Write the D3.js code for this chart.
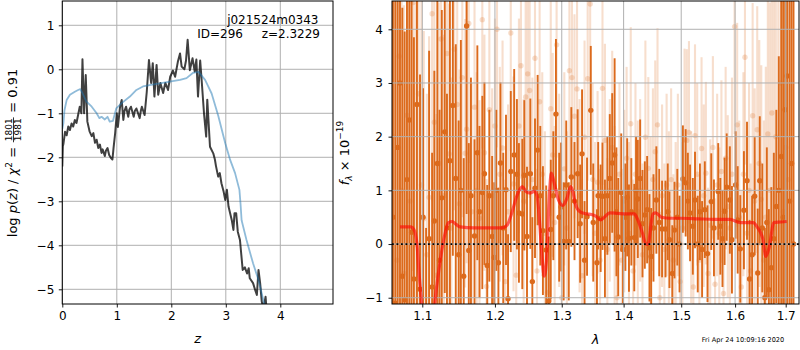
<!DOCTYPE html>
<html><head><meta charset="utf-8">
<script src="https://cdn.jsdelivr.net/npm/d3@7"></script>
<style>body{margin:0;background:#fff} text{font-family:"DejaVu Sans",sans-serif;fill:#000}</style>
</head><body><svg id="c" width="800" height="350" xmlns="http://www.w3.org/2000/svg"></svg>
<script>
// ---------- Left panel data: log p(z) ----------
const zBlack = [0.00,0.01,0.02,0.05,0.08,0.11,0.14,0.17,0.20,0.23,0.26,0.29,0.32,0.35,0.37,0.40,0.43,0.46,0.50,0.54,0.57,0.60,0.63,0.66,0.69,0.72,0.74,0.78,0.80,0.83,0.86,0.89,0.92,0.94,0.97,1.00,1.02,1.06,1.09,1.12,1.14,1.17,1.21,1.23,1.26,1.31,1.33,1.36,1.42,1.44,1.46,1.51,1.55,1.59,1.63,1.66,1.69,1.73,1.76,1.80,1.85,1.89,1.94,1.98,2.03,2.07,2.12,2.16,2.19,2.24,2.27,2.30,2.34,2.39,2.43,2.46,2.49,2.53,2.56,2.60,2.64,2.66,2.71,2.77,2.80,2.82,2.86,2.89,2.92,2.96,2.99,3.02,3.05,3.11,3.14,3.16,3.19,3.22,3.26,3.31,3.35,3.39,3.42,3.44,3.50,3.54,3.57,3.60,3.63,3.66,3.69,3.73,3.75];
const pBlack = [-2.21,-1.75,-1.70,-1.42,-1.50,-1.30,-1.38,-1.23,-1.30,-1.15,-1.22,-1.04,-0.85,-1.00,0.23,-1.00,-0.13,-1.19,-1.41,-1.52,-1.45,-1.67,-1.60,-1.79,-1.71,-1.90,-1.82,-1.97,-1.85,-1.79,-1.95,-2.01,-2.05,-1.79,-1.45,-1.00,-1.31,-0.85,-0.70,-1.15,-0.95,-0.85,-1.08,-0.92,-0.85,-1.08,-0.95,-0.89,-1.11,-0.95,-0.85,-1.04,-0.51,0.21,-0.31,0.14,-0.62,0.10,-0.58,-0.31,-0.54,-0.31,-0.47,-0.17,-0.03,-0.17,0.17,0.36,0.06,0.00,0.20,0.67,-0.02,0.25,-0.05,0.22,-0.62,0.20,-0.30,-1.00,-1.53,-0.69,-1.76,-1.91,-2.05,-2.20,-2.44,-2.36,-2.59,-2.78,-2.97,-2.74,-3.12,-3.43,-3.65,-3.27,-3.27,-3.69,-3.88,-4.56,-4.50,-4.64,-4.52,-4.75,-4.86,-5.02,-5.13,-4.56,-4.86,-5.28,-5.45,-5.17,-5.50];
const zBlue = [0.00,0.02,0.04,0.08,0.14,0.23,0.29,0.33,0.37,0.44,0.54,0.63,0.68,0.72,0.78,0.83,0.87,0.93,0.99,1.09,1.24,1.36,1.48,1.60,1.79,1.97,2.16,2.28,2.40,2.50,2.62,2.74,2.86,2.99,3.08,3.17,3.25,3.27,3.29,3.38,3.50,3.60,3.68,3.72];
const pBlue = [-1.35,-1.23,-0.93,-0.70,-0.58,-0.51,-0.47,-0.45,-0.54,-0.73,-0.85,-1.00,-1.11,-1.08,-1.14,-1.08,-1.19,-1.17,-0.89,-0.77,-0.62,-0.47,-0.39,-0.36,-0.32,-0.28,-0.24,-0.20,-0.08,-0.06,-0.24,-0.55,-1.05,-1.68,-2.06,-2.36,-2.74,-3.05,-3.43,-3.88,-4.41,-4.79,-5.20,-5.40];
const zTicks = [0,1,2,3,4];
const pTicks = [-5,-4,-3,-2,-1,0,1];

// ---------- Right panel data: spectrum ----------
const darkWave = [1.062,1.065,1.068,1.071,1.074,1.077,1.080,1.083,1.086,1.089,1.093,1.097,1.101,1.105,1.109,1.113,1.116,1.120,1.123,1.126,1.130,1.133,1.137,1.141,1.145,1.149,1.152,1.156,1.160,1.163,1.166,1.171,1.175,1.178,1.182,1.185,1.189,1.192,1.196,1.199,1.202,1.205,1.208,1.212,1.216,1.219,1.223,1.228,1.232,1.235,1.240,1.243,1.247,1.252,1.255,1.259,1.263,1.267,1.271,1.276,1.280,1.283,1.287,1.291,1.296,1.299,1.303,1.307,1.311,1.315,1.320,1.325,1.329,1.332,1.336,1.340,1.346,1.350,1.356,1.358,1.362,1.365,1.369,1.373,1.377,1.381,1.385,1.388,1.391,1.396,1.399,1.403,1.406,1.409,1.413,1.418,1.421,1.424,1.428,1.432,1.436,1.440,1.444,1.447,1.451,1.456,1.461,1.466,1.472,1.476,1.479,1.484,1.488,1.493,1.497,1.503,1.508,1.512,1.516,1.521,1.525,1.530,1.534,1.538,1.543,1.548,1.555,1.560,1.568,1.572,1.576,1.580,1.584,1.590,1.594,1.601,1.605,1.610,1.617,1.623,1.628,1.633,1.638,1.644,1.648,1.653,1.658,1.662,1.666,1.671,1.676,1.681,1.686,1.691,1.695,1.699,1.703,1.708,1.712,1.716];
const darkFlux = [0.5,-1.1,1.8,3.0,-0.6,-1.04,1.2,2.31,0.22,-0.65,2.6,-0.84,0.5,-1.3,0.1,-0.8,0.43,1.5,-0.3,0.86,2.09,0.3,1.55,2.58,1.22,-0.2,1.0,-0.6,4.06,-0.12,0.9,0.15,1.7,0.6,0.96,1.31,-0.4,0.9,0.14,-0.25,1.0,-0.35,1.51,0.3,1.01,-1.02,1.35,1.66,1.30,0.58,0.56,1.28,0.14,1.31,-0.70,1.04,1.75,0.9,0.25,-0.11,-1.06,0.27,0.9,2.42,0.5,0.69,0.05,1.1,0.05,1.25,0.8,1.31,0.38,1.68,-0.3,0.51,2.49,0.40,-0.35,0.9,0.48,0.89,0.1,0.9,1.22,1.51,1.66,0.6,0.13,0.96,-0.1,0.5,0.87,0.11,0.6,0.12,1.0,0.84,1.22,0.38,0.54,0.64,-0.07,-0.23,0.3,0.82,0.4,0.28,0.28,0.6,0.08,-0.55,0.26,0.5,0.0,1.21,1.14,0.8,0.58,0.33,0.82,0.0,0.6,-0.1,0.64,-0.18,0.79,0.3,0.98,0.33,0.1,0.61,1.06,0.82,0.08,1.10,0.45,-0.09,0.63,1.18,-0.65,-0.2,0.89,-0.54,1.18,0.3,-1.0,0.4,-0.85,-0.44,0.1,0.7,1.0,1.63,0.5,2.5,3.13,0.8,1.5,0.0];
const darkErr = [6,6,5.5,5.5,5,5,5,4.5,4.5,4.5,4.5,4,2.4,1.6,3.5,2.5,2.8,3.2,2.8,3.5,3.0,2.5,3.0,2.8,2.5,2.5,2.8,2.2,3.5,2.0,2.2,1.8,2.0,1.6,1.8,1.7,1.5,1.6,1.5,1.4,1.5,1.4,1.5,1.4,1.4,1.2,1.5,1.6,1.4,1.3,1.4,1.4,1.3,1.4,1.2,1.3,1.4,1.3,1.2,1.2,1.2,1.3,1.2,1.4,1.2,1.2,1.1,1.2,1.1,1.3,1.1,1.2,1.1,1.2,1.1,1.1,1.2,1.1,1.0,1.0,1.0,1.0,1.1,1.1,1.2,1.3,1.8,1.2,1.1,1.1,1.0,1.0,1.1,1.0,1.0,1.0,1.0,1.1,1.1,1.0,1.0,1.0,1.0,0.9,1.0,1.0,1.0,0.9,0.9,0.9,0.9,0.9,0.9,0.9,0.9,1.0,1.0,0.9,0.9,0.9,0.9,0.9,0.9,0.9,0.9,0.9,0.9,0.9,0.9,0.9,0.9,1.0,1.0,1.0,1.0,1.0,1.0,1.0,1.1,1.1,1.1,1.1,1.1,1.2,1.2,1.2,1.3,1.4,1.5,1.5,1.6,1.8,2.5,5,5,6,6,6,6,6,6];

const lightWave = [1.063,1.067,1.070,1.073,1.076,1.080,1.084,1.088,1.091,1.095,1.099,1.102,1.106,1.109,1.113,1.116,1.119,1.122,1.125,1.129,1.133,1.136,1.139,1.143,1.147,1.150,1.154,1.158,1.160,1.163,1.167,1.171,1.174,1.178,1.182,1.185,1.188,1.192,1.196,1.200,1.203,1.207,1.211,1.215,1.219,1.223,1.227,1.231,1.235,1.238,1.242,1.245,1.248,1.251,1.255,1.259,1.262,1.266,1.270,1.274,1.278,1.283,1.286,1.289,1.292,1.296,1.300,1.304,1.308,1.312,1.316,1.320,1.324,1.328,1.332,1.336,1.341,1.345,1.349,1.353,1.357,1.361,1.365,1.369,1.373,1.377,1.381,1.385,1.389,1.393,1.397,1.401,1.405,1.409,1.412,1.416,1.420,1.424,1.428,1.432,1.437,1.442,1.446,1.450,1.454,1.458,1.462,1.466,1.470,1.474,1.478,1.482,1.486,1.490,1.494,1.498,1.502,1.506,1.510,1.514,1.518,1.522,1.525,1.529,1.533,1.537,1.541,1.545,1.549,1.553,1.558,1.562,1.566,1.570,1.574,1.578,1.582,1.586,1.590,1.594,1.599,1.604,1.608,1.612,1.616,1.619,1.623,1.627,1.630,1.634,1.638,1.643,1.647,1.651,1.656,1.660,1.664,1.668,1.672,1.676,1.680,1.685,1.690,1.695,1.700,1.705];
const lightFlux = [2.0,-0.3,3.5,1.0,-0.55,2.4,0.8,4.5,0.0,2.8,1.1,0.47,-0.2,0.87,4.29,2.27,-0.58,1.5,3.82,0.9,3.55,1.68,0.3,3.63,2.6,0.75,3.1,1.69,2.14,4.11,0.6,2.55,1.0,0.48,4.18,1.7,-0.79,2.5,0.9,2.2,4.0,1.3,1.79,-0.7,0.6,3.93,1.12,-0.58,2.2,3.32,0.8,2.74,3.17,2.86,1.2,3.46,-0.5,2.65,1.3,0.2,-0.9,2.52,1.66,0.4,3.71,1.0,-1.0,1.4,0.3,3.23,3.1,2.38,2.89,0.9,-0.59,1.99,3.08,4.47,1.2,0.2,1.15,-0.3,2.9,1.93,-0.1,1.0,1.8,0.5,-1.0,1.3,-0.3,0.8,1.6,0.2,2.24,-0.5,1.3,0.6,1.0,-0.2,1.99,1.41,0.3,1.2,1.72,2.22,-1.0,0.9,-0.1,1.1,0.5,1.2,-0.3,0.3,1.1,-0.7,0.3,1.94,1.93,2.08,0.5,-0.8,2.02,1.3,-0.3,1.78,0.9,1.32,-0.55,0.35,1.8,-0.75,1.1,0.2,1.35,-0.92,1.6,0.7,0.3,1.3,4.05,2.22,0.5,-0.8,1.3,3.48,0.2,1.0,-0.5,2.39,0.8,2.13,1.5,0.83,-0.3,0.5,2.05,1.0,2.44,0.3,2.0,1.0,3.0,0.6,1.8,1.2];
const lightErr = [6,6,6,5.5,5,5,5,5,4.5,4.5,4,3.5,3,3,3.5,3,3,3,3,3,3,2.8,2.8,3,2.8,2.5,2.6,2.5,2.5,2.6,2.4,2.3,2.2,2.2,2.4,2.2,2,2.2,2,2,2.2,2,2,1.9,2,2.2,2,1.9,2,2.1,1.9,2,2.1,2,1.9,2,1.9,2,1.9,1.9,1.9,2,1.9,1.8,2.1,1.8,1.8,1.8,1.8,2,2,1.9,1.9,1.8,1.8,1.8,1.9,2,1.8,1.7,1.7,1.7,1.8,1.8,1.7,1.7,1.8,1.7,1.7,1.7,1.7,1.7,1.7,1.7,1.8,1.7,1.7,1.7,1.7,1.7,1.8,1.7,1.7,1.7,1.7,1.8,1.6,1.7,1.6,1.7,1.6,1.7,1.6,1.6,1.7,1.6,1.6,1.7,1.7,1.7,1.6,1.6,1.7,1.7,1.6,1.7,1.7,1.7,1.6,1.6,1.7,1.6,1.7,1.6,1.7,1.6,1.7,1.7,1.7,1.8,2.0,1.9,1.8,1.8,1.9,2.0,1.9,2.0,2.0,2.1,2.1,2.3,2.3,2.5,2.6,2.8,3.0,3.5,4,4.5,5,5.5,6,6,6,6];

const modelWave = [1.071,1.085,1.089,1.093,1.096,1.099,1.103,1.112,1.116,1.120,1.124,1.130,1.135,1.140,1.146,1.151,1.170,1.190,1.210,1.218,1.225,1.232,1.240,1.246,1.252,1.258,1.262,1.266,1.270,1.273,1.277,1.280,1.284,1.288,1.295,1.302,1.308,1.314,1.318,1.321,1.329,1.340,1.347,1.354,1.362,1.368,1.377,1.390,1.405,1.418,1.424,1.432,1.438,1.442,1.446,1.450,1.455,1.465,1.480,1.500,1.530,1.560,1.590,1.610,1.635,1.644,1.654,1.660,1.667,1.676,1.690,1.702];
const modelFlux = [0.32,0.32,0.27,0.0,-0.6,-1.1,-2.2,-2.2,-1.2,-0.7,-0.3,0.17,0.40,0.42,0.36,0.32,0.30,0.30,0.30,0.36,0.60,0.90,1.07,0.97,0.95,0.98,0.90,0.40,-0.30,-0.60,-0.20,0.70,1.32,1.15,0.82,0.72,0.85,1.07,0.95,0.76,0.60,0.56,0.55,0.52,0.45,0.50,0.58,0.57,0.56,0.56,0.45,0.20,0.00,0.00,0.30,0.56,0.58,0.50,0.48,0.48,0.47,0.46,0.46,0.40,0.40,0.30,0.10,-0.23,-0.05,0.40,0.41,0.42];
const waveTicks = [1.1,1.2,1.3,1.4,1.5,1.6,1.7];
const fluxTicks = [-1,0,1,2,3,4];

// ---------- drawing ----------
const svg = d3.select("#c");
const FS = 12;
const GRID = "#b0b0b0";

function gridLines(box, xs, ys, xt, yt) {
  const gg = svg.append("g");
  gg.selectAll("line.gx").data(xt).join("line")
    .attr("x1", d => xs(d)).attr("x2", d => xs(d)).attr("y1", box.y0).attr("y2", box.y1)
    .attr("stroke", GRID).attr("stroke-width", 1);
  gg.selectAll("line.gy").data(yt).join("line")
    .attr("x1", box.x0).attr("x2", box.x1).attr("y1", d => ys(d)).attr("y2", d => ys(d))
    .attr("stroke", GRID).attr("stroke-width", 1);
}

function axesFrame(box, xs, ys, xt, yt, xfmt, yfmt, ypad) {
  const ax = svg.append("g").attr("transform", `translate(0,${box.y1})`)
    .call(d3.axisBottom(xs).tickValues(xt).tickFormat(xfmt).tickSize(3.5).tickPadding(3.5).tickSizeOuter(0));
  ax.select(".domain").remove();
  ax.selectAll("text").attr("font-size", FS).attr("font-family", "DejaVu Sans").attr("fill", "#000");
  ax.selectAll("line").attr("stroke", "#000").attr("stroke-width", 0.9);
  const ay = svg.append("g").attr("transform", `translate(${box.x0},0)`)
    .call(d3.axisLeft(ys).tickValues(yt).tickFormat(yfmt).tickSize(3.5).tickPadding(ypad).tickSizeOuter(0));
  ay.select(".domain").remove();
  ay.selectAll("text").attr("font-size", FS).attr("font-family", "DejaVu Sans").attr("fill", "#000");
  ay.selectAll("line").attr("stroke", "#000").attr("stroke-width", 0.9);
  svg.append("rect").attr("x", box.x0).attr("y", box.y0)
    .attr("width", box.x1 - box.x0).attr("height", box.y1 - box.y0)
    .attr("fill", "none").attr("stroke", "#000").attr("stroke-width", 1);
}

// ----- Left panel -----
const L = {x0: 62.3, x1: 333, y0: 1, y1: 304};
const xz = d3.scaleLinear().domain([0, 4.967]).range([L.x0, L.x1]);
const yp = d3.scaleLinear().domain([-5.334, 1.552]).range([L.y1, L.y0]);
svg.append("clipPath").attr("id", "clipL").append("rect")
  .attr("x", L.x0).attr("y", L.y0).attr("width", L.x1 - L.x0).attr("height", L.y1 - L.y0);
gridLines(L, xz, yp, zTicks, pTicks);
const gl = svg.append("g").attr("clip-path", "url(#clipL)");
const lineL = d3.line().x(d => xz(d[0])).y(d => yp(d[1]));
gl.append("path").datum(zBlack.map((z, i) => [z, pBlack[i]]))
  .attr("d", lineL).attr("fill", "none").attr("stroke", "#000").attr("stroke-opacity", 0.75)
  .attr("stroke-width", 2).attr("stroke-linejoin", "round");
gl.append("path").datum(zBlue.map((z, i) => [z, pBlue[i]]))
  .attr("d", lineL).attr("fill", "none").attr("stroke", "#1f77b4").attr("stroke-opacity", 0.5)
  .attr("stroke-width", 1.8).attr("stroke-linejoin", "round");
axesFrame(L, xz, yp, zTicks, pTicks, d3.format("d"), d3.format("d"), 4.5);

svg.append("text").attr("x", 318.5).attr("y", 23.5).attr("text-anchor", "end").attr("font-size", FS).text("j021524m0343");
svg.append("text").attr("x", 243).attr("y", 38.3).attr("text-anchor", "end").attr("font-size", FS).text("ID=296");
svg.append("text").attr("x", 320).attr("y", 38.3).attr("text-anchor", "end").attr("font-size", FS).text("z=2.3229");
svg.append("text").attr("x", (L.x0 + L.x1) / 2).attr("y", 343).attr("text-anchor", "middle")
  .attr("font-size", 13).attr("font-style", "italic").text("z");

function richLabel(cx, cy, pieces, base) {
  const outer = svg.append("g").attr("transform", `translate(${cx},${cy}) rotate(-90)`);
  const g = outer.append("g");
  let x = 0;
  pieces.forEach(p => {
    if (p.frac) {
      const n = g.append("text").attr("font-size", p.size).attr("text-anchor", "middle").text(p.frac[0]);
      const d = g.append("text").attr("font-size", p.size).attr("text-anchor", "middle").text(p.frac[1]);
      const w = Math.max(n.node().getComputedTextLength(), d.node().getComputedTextLength()) + 3;
      n.attr("x", x + w / 2).attr("y", p.ny);
      d.attr("x", x + w / 2).attr("y", p.dy2);
      g.append("line").attr("x1", x + 0.5).attr("x2", x + w - 0.5).attr("y1", p.by).attr("y2", p.by)
        .attr("stroke", "#000").attr("stroke-width", 0.8);
      x += w;
    } else {
      const t = g.append("text").attr("x", x).attr("y", p.dy || 0).attr("font-size", p.size || base)
        .attr("font-style", p.italic ? "italic" : null).attr("xml:space", "preserve")
        .style("white-space", "pre").text(p.t);
      x += t.node().getComputedTextLength();
    }
  });
  g.attr("transform", `translate(${-x / 2},0)`);
}

richLabel(17, 153, [
  {t: "log "}, {t: "p", italic: true}, {t: "("}, {t: "z", italic: true}, {t: ") / "},
  {t: "χ", italic: true}, {t: "2", size: 9, dy: -5.5}, {t: " = "},
  {frac: ["1801", "1981"], size: 9, ny: -5.2, dy2: 3.8, by: -3.5},
  {t: " = 0.91"}
], 13);

// ----- Right panel -----
const R = {x0: 392, x1: 799, y0: 1, y1: 304};
const xw = d3.scaleLog().domain([1.0608, 1.7273]).range([R.x0, R.x1]);
const yf = d3.scaleLinear().domain([-1.117, 4.527]).range([R.y1, R.y0]);
svg.append("clipPath").attr("id", "clipR").append("rect")
  .attr("x", R.x0).attr("y", R.y0).attr("width", R.x1 - R.x0).attr("height", R.y1 - R.y0);
const gr = svg.append("g").attr("clip-path", "url(#clipR)");
const ORANGE = "#dc6a1c";

function errSeries(g, W, F, E, op, lw, r) {
  const data = W.map((w, i) => ({w, f: F[i], e: E[i]}));
  const s = g.append("g");
  s.selectAll("line").data(data).join("line")
    .attr("x1", d => xw(d.w)).attr("x2", d => xw(d.w))
    .attr("y1", d => yf(d.f - d.e)).attr("y2", d => yf(d.f + d.e))
    .attr("stroke", ORANGE).attr("stroke-opacity", op).attr("stroke-width", lw);
  s.selectAll("circle").data(data).join("circle")
    .attr("cx", d => xw(d.w)).attr("cy", d => yf(d.f)).attr("r", r)
    .attr("fill", ORANGE).attr("fill-opacity", op);
}
errSeries(gr, lightWave, lightFlux, lightErr, 0.22, 2.1, 2.7);
errSeries(gr, darkWave, darkFlux, darkErr, 1, 1.9, 2.7);

gridLines(R, xw, yf, waveTicks, fluxTicks);
const gr2 = svg.append("g").attr("clip-path", "url(#clipR)");
gr2.append("path").datum(modelWave.map((w, i) => [w, modelFlux[i]]))
  .attr("d", d3.line().curve(d3.curveMonotoneX).x(d => xw(d[0])).y(d => yf(d[1])))
  .attr("fill", "none").attr("stroke", "red").attr("stroke-opacity", 0.6).attr("stroke-width", 3.2)
  .attr("stroke-linejoin", "round");
gr2.append("line").attr("x1", R.x0).attr("x2", R.x1).attr("y1", yf(0)).attr("y2", yf(0))
  .attr("stroke", "#000").attr("stroke-width", 1.8).attr("stroke-dasharray", "1.8,2.7");
axesFrame(R, xw, yf, waveTicks, fluxTicks, d3.format(".1f"), d3.format("d"), 5.5);

svg.append("text").attr("x", (R.x0 + R.x1) / 2).attr("y", 344).attr("text-anchor", "middle")
  .attr("font-size", 13).attr("font-style", "italic").text("λ");
richLabel(348.5, 153, [
  {t: "f", italic: true}, {t: "λ", italic: true, size: 9, dy: 3}, {t: " × 10"}, {t: "−19", size: 9, dy: -5.5}
], 13);
svg.append("text").attr("x", 743).attr("y", 342).attr("text-anchor", "middle").attr("font-size", 6.6).text("Fri Apr 24 10:09:16 2020");
</script>
</body></html>
